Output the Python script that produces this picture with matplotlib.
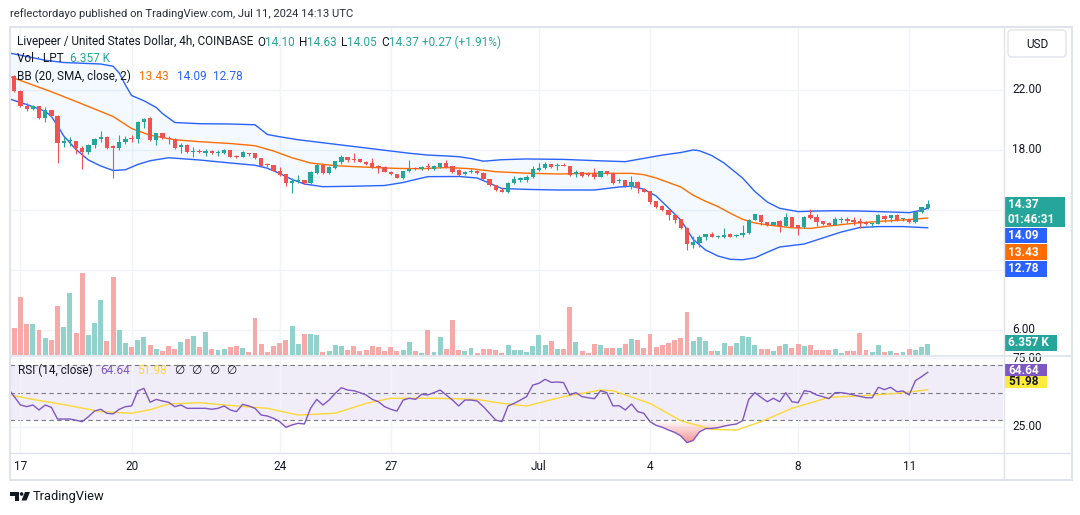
# -*- coding: utf-8 -*-
"""
Livepeer / USD, 4h (COINBASE) - velas, BB(20, 2), volumen y RSI(14)
estilo captura de TradingView
"""
import numpy as np
import matplotlib
matplotlib.use('Agg')
import matplotlib.pyplot as plt
from matplotlib.patches import Rectangle, FancyBboxPatch, Polygon, Circle
from matplotlib.lines import Line2D
from matplotlib.transforms import Affine2D
from matplotlib.path import Path

# DATOS
# indice de vela: 0 = 16 jun 20:00, una vela cada 4h, ultima = 11 jul 12:00
start = -1
opens = [22.3, 22.92, 21.90, 20.92, 20.68, 20.88, 20.12, 20.61, 20.25, 18.45,
         18.55, 18.58, 18.08, 17.85, 18.3, 18.7, 18.85, 18.23, 18.08, 18.52,
         18.72, 18.68, 19.86, 20.12, 18.63, 19.08, 18.79, 18.7, 18.15, 18.3,
         17.85, 17.9, 17.8, 17.9, 17.76, 17.8, 17.97, 17.6, 17.52, 17.77,
         17.75, 17.43, 17.0, 16.95, 16.6, 16.35, 15.78, 15.93, 15.97, 15.8,
         16.45, 16.97, 16.46, 16.75, 17.2, 17.5, 17.35, 17.35, 17.2, 17.1,
         16.9, 16.85, 16.52, 16.37, 16.1, 16.55, 16.77, 16.7, 16.88, 16.73,
         16.82, 17.08, 16.9, 16.63, 16.35, 16.52, 16.6, 16.45, 16.01, 15.63,
         15.32, 15.19, 15.75, 15.95, 15.97, 16.15, 16.65, 16.74, 17.03, 16.9,
         16.95, 16.9, 16.35, 16.5, 16.35, 16.35, 16.19, 16.57, 16.45, 15.9,
         15.99, 15.52, 15.85, 15.4, 15.22, 14.55, 14.22, 14.0, 13.63, 13.35,
         12.78, 11.65, 11.8, 12.14, 12.37, 12.19, 12.2, 12.37, 12.22, 12.3,
         12.45, 13.3, 13.65, 13.19, 12.97, 13.25, 12.92, 13.48, 12.97, 12.81,
         13.63, 13.48, 13.23, 13.12, 13.0, 13.3, 13.37, 13.25, 13.23, 13.2,
         13.03, 13.05, 13.55, 13.41, 13.63, 13.34, 13.34, 13.14, 13.86, 14.10]
highs = [23.1, 23.0, 21.95, 21.12, 21.0, 20.9, 20.81, 20.65, 20.3, 18.85,
         18.85, 18.6, 18.25, 18.39, 18.75, 19.23, 18.9, 18.3, 19.0, 18.9,
         18.95, 19.9, 20.12, 20.15, 19.1, 19.1, 18.9, 18.75, 18.45, 18.4,
         18.19, 18.03, 18.03, 17.95, 17.98, 18.05, 18.0, 17.65, 17.88, 17.8,
         17.78, 17.45, 17.1, 16.95, 16.81, 16.4, 16.08, 16.3, 16.0, 16.55,
         17.08, 17.0, 16.9, 17.26, 17.66, 17.52, 17.75, 17.4, 17.25, 17.41,
         16.95, 16.9, 16.55, 16.4, 16.6, 17.3, 16.85, 16.9, 17.08, 16.95,
         17.12, 17.3, 16.92, 16.7, 16.55, 16.68, 16.62, 16.48, 16.05, 15.65,
         15.42, 15.85, 16.23, 16.15, 16.3, 16.92, 17.12, 17.19, 17.06, 17.08,
         17.08, 16.92, 16.63, 16.52, 16.52, 16.74, 16.6, 16.6, 16.5, 16.08,
         16.0, 16.23, 15.9, 15.42, 15.26, 14.6, 14.3, 14.03, 13.65, 13.4,
         12.81, 12.26, 12.3, 12.4, 12.52, 12.3, 12.75, 12.45, 12.4, 12.97,
         13.35, 13.72, 13.66, 13.2, 13.2, 13.28, 13.74, 13.52, 13.0, 13.56,
         14.01, 13.7, 13.25, 13.15, 13.48, 13.48, 13.52, 13.48, 13.41, 13.25,
         13.1, 13.68, 13.63, 13.65, 13.68, 13.43, 13.4, 13.9, 14.2, 14.63]
lows = [22.2, 21.85, 20.85, 20.6, 20.63, 20.05, 19.86, 20.2, 17.12, 18.2,
        18.25, 17.7, 16.7, 17.7, 18.1, 18.48, 18.05, 16.12, 17.95, 18.4,
        18.5, 18.45, 19.45, 18.6, 18.3, 18.7, 18.4, 18.05, 17.8, 17.8,
        17.48, 17.75, 17.55, 17.7, 17.6, 17.7, 17.5, 17.45, 17.48, 17.6,
        17.4, 16.88, 16.85, 16.55, 16.25, 15.59, 15.08, 15.75, 15.7, 15.72,
        16.4, 16.4, 16.4, 16.72, 17.05, 17.2, 17.2, 17.15, 16.98, 16.8,
        16.41, 16.5, 16.3, 16.1, 16.03, 16.5, 16.65, 16.65, 16.65, 16.63,
        16.78, 16.78, 16.41, 16.25, 16.3, 16.41, 16.38, 15.98, 15.58, 15.25,
        15.15, 15.08, 15.7, 15.85, 15.85, 16.1, 16.59, 16.7, 16.8, 16.63,
        16.88, 16.25, 16.14, 16.2, 16.25, 16.01, 16.15, 16.3, 15.7, 15.74,
        15.5, 15.34, 15.08, 15.15, 14.34, 14.12, 13.92, 13.3, 13.08, 12.7,
        11.3, 11.41, 11.5, 12.0, 12.15, 12.08, 12.08, 12.15, 12.15, 12.2,
        12.4, 13.28, 12.97, 12.9, 12.95, 12.52, 12.9, 12.84, 12.3, 12.78,
        13.38, 12.92, 12.97, 12.95, 12.97, 13.08, 13.08, 12.97, 12.74, 13.0,
        12.81, 13.03, 13.19, 13.19, 13.25, 13.25, 13.1, 13.1, 13.74, 14.05]
closes = [22.95, 21.90, 20.92, 20.68, 20.88, 20.12, 20.61, 20.25, 18.45, 18.55,
          18.58, 18.08, 17.85, 18.3, 18.7, 18.85, 18.12, 18.08, 18.52, 18.7,
          18.68, 19.86, 20.03, 18.63, 19.08, 18.79, 18.7, 18.12, 18.3, 17.85,
          17.9, 17.82, 17.9, 17.75, 17.82, 17.97, 17.52, 17.52, 17.85, 17.68,
          17.43, 16.92, 16.95, 16.6, 16.3, 15.8, 15.93, 15.97, 15.75, 16.52,
          16.97, 16.46, 16.86, 17.23, 17.52, 17.27, 17.3, 17.2, 17.02, 16.86,
          16.82, 16.52, 16.35, 16.12, 16.57, 16.7, 16.7, 16.86, 16.82, 16.9,
          17.08, 16.81, 16.52, 16.3, 16.52, 16.55, 16.41, 16.01, 15.61, 15.3,
          15.19, 15.79, 16.01, 16.12, 16.19, 16.68, 16.74, 17.03, 16.86, 16.95,
          16.92, 16.3, 16.52, 16.26, 16.32, 16.19, 16.57, 16.35, 15.74, 15.99,
          15.6, 15.85, 15.41, 15.19, 14.52, 14.19, 13.97, 13.63, 13.3, 12.74,
          11.7, 11.85, 12.14, 12.37, 12.19, 12.22, 12.3, 12.19, 12.28, 12.46,
          13.3, 13.68, 13.19, 12.97, 13.19, 12.92, 13.48, 12.86, 12.74, 13.52,
          13.41, 13.14, 13.03, 12.99, 13.37, 13.34, 13.23, 13.2, 13.08, 13.03,
          13.05, 13.63, 13.34, 13.63, 13.3, 13.41, 13.14, 13.86, 14.14, 14.37]
# volumen en miles de LPT
volume = [26.6, 15.3, 32.7, 17.6, 17.6, 14.2, 9.7, 8.6, 27.7, 15.9,
          35.0, 12.5, 46.2, 11.4, 18.1, 31.0, 8.0, 43.9, 14.2, 6.9,
          4.7, 8.6, 10.3, 5.8, 3.6, 2.4, 5.2, 3.6, 7.5, 9.2,
          10.8, 4.7, 13.1, 3.6, 3.0, 3.6, 4.7, 5.2, 4.1, 1.9,
          20.9, 6.4, 1.9, 5.2, 6.9, 8.6, 16.5, 6.4, 12.0, 12.0,
          11.4, 1.9, 2.4, 5.8, 5.2, 3.0, 5.2, 2.4, 3.0, 5.2,
          4.7, 2.4, 4.7, 2.4, 3.0, 7.5, 2.4, 1.3, 14.2, 1.9,
          10.3, 3.6, 19.8, 3.0, 2.4, 4.1, 1.3, 3.6, 3.6, 3.0,
          1.3, 5.8, 3.0, 3.0, 1.9, 5.2, 11.4, 5.8, 8.0, 3.6,
          3.6, 27.1, 7.5, 2.4, 1.3, 6.4, 5.8, 4.1, 4.1, 4.1,
          6.4, 9.2, 8.6, 4.1, 12.0, 4.7, 5.8, 6.9, 8.6, 9.7,
          24.3, 8.0, 10.3, 8.0, 2.4, 2.4, 6.9, 5.2, 6.9, 10.8,
          10.3, 5.8, 3.6, 3.6, 2.4, 5.2, 6.4, 4.1, 6.4, 5.2,
          5.8, 3.0, 3.0, 3.0, 3.6, 1.3, 2.4, 2.4, 12.5, 3.0,
          1.9, 5.8, 1.9, 2.4, 1.3, 1.9, 3.6, 3.0, 4.7, 6.357]
rsi_vals = [53.0, 47.0, 40.9, 39.7, 40.9, 37.3, 40.9, 39.2, 30.7, 30.7,
            30.7, 29.8, 28.8, 32.4, 36.5, 37.8, 34.9, 34.4, 37.8, 39.7,
            40.2, 51.1, 53.0, 42.9, 45.0, 43.8, 42.9, 39.7, 40.9, 38.5,
            38.5, 38.5, 38.5, 37.8, 38.5, 40.2, 37.3, 36.1, 41.4, 40.2,
            38.5, 33.6, 32.9, 31.2, 28.8, 24.7, 26.4, 27.6, 27.1, 38.5,
            45.0, 40.9, 44.5, 49.4, 53.5, 51.8, 51.3, 49.9, 48.2, 45.0,
            43.3, 39.7, 37.8, 36.5, 44.5, 45.8, 45.0, 48.7, 48.2, 49.9,
            51.8, 48.2, 44.5, 40.2, 44.5, 44.5, 43.8, 39.7, 34.9, 30.0,
            28.8, 40.2, 42.1, 44.5, 47.0, 55.4, 56.7, 59.6, 57.4, 57.6,
            57.2, 48.2, 49.9, 47.0, 46.2, 45.5, 51.3, 49.9, 40.2, 40.4,
            37.3, 41.6, 36.1, 34.9, 28.8, 26.1, 24.7, 22.7, 21.0, 18.4,
            13.5, 15.2, 21.3, 23.7, 23.9, 24.4, 25.6, 26.4, 27.1, 29.5,
            45.0, 49.9, 46.5, 43.3, 45.8, 43.3, 49.9, 43.3, 42.6, 51.3,
            50.6, 48.2, 47.0, 45.5, 49.9, 49.9, 49.2, 48.2, 47.2, 46.2,
            46.2, 53.8, 52.1, 53.8, 50.6, 51.1, 48.2, 58.6, 61.5, 64.64]

# Bandas de Bollinger (muestras)
bb_up_idx = [-1, 2, 5, 8, 11, 14, 16, 17, 18, 19, 21, 23, 24, 26, 30, 35, 39, 41,
             43, 46, 50, 56, 60, 64, 67, 70, 72, 74, 76, 79, 83, 89, 94, 99, 102,
             105, 108, 110, 111, 113, 115, 118, 120, 122, 124, 127, 130, 133, 137,
             140, 143, 145, 147, 148]
bb_up = [24.45, 24.2, 23.95, 23.8, 23.75, 23.7, 23.55, 23.1, 22.3, 21.6, 21.25,
         20.8, 20.4, 19.8, 19.72, 19.7, 19.65, 19.0, 18.85, 18.65, 18.45, 18.15,
         17.95, 17.75, 17.63, 17.57, 17.52, 17.4, 17.22, 17.32, 17.37, 17.34,
         17.26, 17.19, 17.41, 17.63, 17.8, 17.97, 17.92, 17.6, 17.1, 16.1, 15.2,
         14.5, 14.08, 13.86, 13.9, 13.92, 13.9, 13.86, 13.82, 13.79, 13.95, 14.09]
bb_mid_idx = [-1, 3, 6, 10, 13, 16, 19, 22, 26, 30, 35, 39, 42, 45, 48, 52, 57, 62,
              66, 70, 74, 78, 83, 88, 94, 100, 102, 104, 106, 108, 110, 112, 114,
              116, 118, 120, 122, 126, 129, 132, 136, 140, 144, 148]
bb_mid = [22.9, 22.3, 21.85, 21.2, 20.7, 20.2, 19.4, 18.95, 18.65, 18.52, 18.4,
          18.25, 17.9, 17.45, 17.1, 16.92, 16.82, 16.74, 16.72, 16.8, 16.72, 16.52,
          16.42, 16.37, 16.41, 16.41, 16.32, 16.1, 15.8, 15.5, 14.95, 14.55, 14.2,
          13.75, 13.35, 13.1, 12.97, 12.78, 12.74, 12.9, 13.08, 13.2, 13.3, 13.43]
bb_lo_idx = [-1, 2, 5, 6, 7, 8, 10, 12, 14, 16, 18, 20, 22, 25, 30, 35, 39, 41, 43,
             45, 47, 50, 55, 60, 63, 65, 67, 72, 75, 77, 79, 83, 88, 94, 98, 100,
             102, 104, 106, 108, 110, 112, 114, 116, 118, 120, 122, 124, 126, 128,
             131, 134, 137, 140, 144, 146, 148]
bb_lo = [21.4, 21.0, 20.55, 20.2, 19.6, 18.9, 18.0, 17.3, 16.9, 16.6, 16.65, 17.0,
         17.25, 17.45, 17.3, 17.1, 16.95, 16.75, 16.4, 16.0, 15.7, 15.52, 15.55,
         15.6, 15.8, 16.0, 16.19, 16.2, 16.1, 15.75, 15.4, 15.34, 15.3, 15.3, 15.5,
         15.55, 15.35, 14.9, 14.1, 13.3, 12.0, 11.3, 10.9, 10.68, 10.65, 10.78,
         11.15, 11.5, 11.6, 11.7, 12.1, 12.5, 12.8, 12.86, 12.86, 12.82, 12.78]
# media del RSI (SMA 14)
ma_idx = [-1, 3, 8, 14, 19, 22, 25, 30, 34, 41, 46, 52, 57, 61, 68, 75, 79, 83, 89,
          95, 97, 103, 108, 113, 117, 121, 126, 132, 137, 143, 148]
rsi_ma = [48.5, 45.0, 41.2, 36.1, 34.9, 37.5, 41.6, 42.6, 40.9, 38.5, 33.6, 34.9,
          42.1, 45.8, 45.8, 45.0, 42.1, 40.2, 47.0, 51.8, 51.3, 42.1, 29.5, 23.2,
          22.7, 28.8, 38.5, 46.5, 47.5, 49.4, 51.98]

tick_idx = [1, 19, 43, 61, 85, 103, 127, 145]
tick_lab = ['17', '20', '24', '27', 'Jul', '4', '8', '11']
price_ticks = [22, 18, 14, 10, 6]
price_labels = {22: '22.00', 18: '18.00', 6: '6.00'}

# COLORES
TEAL = '#26A69A'
RED = '#EF5350'
VTEAL = '#92D2CC'
VRED = '#F7A9A7'
BLUE = '#2962FF'
ORANGE = '#FF6D00'
PURPLE = '#7E57C2'
YELLOW = '#FDD835'
GRID = '#F0F3FA'
SEP = '#E0E3EB'
TXT = '#131722'

plt.rcParams['font.family'] = ['Roboto', 'DejaVu Sans']

W, H = 1080, 515
fig = plt.figure(figsize=(W / 100, H / 100), dpi=100)
fig.patch.set_facecolor('white')
# pixeles con origen arriba a la izquierda
PX = Affine2D().scale(1, -1).translate(0, H)


def rect(l, t, r, b):
    return [l / W, 1 - b / H, (r - l) / W, (b - t) / H]


idx = np.arange(start, start + len(closes))
o = np.array(opens)
hi = np.array(highs)
lo = np.array(lows)
c = np.array(closes)
up = c >= o

vol = fig.add_axes(rect(10, 28, 1003, 355))
main = vol.twinx()
rsi = fig.add_axes(rect(10, 356, 1003, 452), sharex=vol)

for ax in (vol, main, rsi):
    ax.tick_params(left=False, right=False, bottom=False, top=False,
                   labelleft=False, labelright=False, labelbottom=False)
    for s in ax.spines.values():
        s.set_visible(False)

vol.set_xticks(tick_idx)
vol.grid(axis='x', color=GRID, lw=1)
rsi.grid(axis='x', color=GRID, lw=1)
for p in price_ticks:
    vol.add_line(Line2D([-5, 170], [p, p], transform=main.transData,
                        color=GRID, lw=1, zorder=0.5))

# volumen
vol.bar(idx, volume, width=0.8, color=np.where(up, VTEAL, VRED), lw=0, zorder=2)

# bandas de bollinger
main.fill(np.r_[bb_up_idx, bb_lo_idx[::-1]], np.r_[bb_up, bb_lo[::-1]],
          color='#2196F3', alpha=0.05, lw=0, zorder=1)
main.plot(bb_up_idx, bb_up, color=BLUE, lw=1, zorder=2)
main.plot(bb_lo_idx, bb_lo, color=BLUE, lw=1, zorder=2)
main.plot(bb_mid_idx, bb_mid, color=ORANGE, lw=1, zorder=2)

# velas
cols = np.where(up, TEAL, RED)
main.vlines(idx, lo, hi, colors=cols, lw=0.8, zorder=3)
main.bar(idx, np.maximum(np.abs(c - o), 0.07), bottom=np.minimum(o, c),
         width=0.7, color=cols, lw=0, zorder=4)

# RSI
r = np.array(rsi_vals)
rsi.axhspan(30, 70, color=PURPLE, alpha=0.1, lw=0, zorder=0)
for lvl in (25, 75):
    rsi.axhline(lvl, color=GRID, lw=1, zorder=0.5)
for lvl in (70, 50, 30):
    rsi.axhline(lvl, color='#787B86', lw=0.8, dashes=(4, 3), zorder=1)
zona = rsi.fill_between(idx, r, 30, where=r < 30, interpolate=True,
                        color='none', lw=0)
grad = np.zeros((100, 1, 4))
grad[:, 0, 0], grad[:, 0, 1], grad[:, 0, 2] = 0.94, 0.33, 0.31
grad[:, 0, 3] = np.linspace(0.7, 0.0, 100)
img = rsi.imshow(grad, extent=[-2, 160, 12, 30], origin='lower', aspect='auto',
                 zorder=1.5)
img.set_clip_path(Path.make_compound_path(*zona.get_paths()), rsi.transData)
rsi.plot(idx, r, color=PURPLE, lw=1, zorder=3)
rsi.plot(ma_idx, rsi_ma, color=YELLOW, lw=1, zorder=2)

vol.set_xlim(-0.7, 160.2)
vol.set_ylim(0, 183.5)
main.set_ylim(4.3, 26.1)
rsi.set_ylim(6.73, 76.55)

# marcos y separadores
fig.add_artist(Rectangle((9.5, 27), 1062.5, 452.5, transform=PX, fill=False,
                         ec=SEP, lw=1.5))
fig.add_artist(Line2D([10, 1072], [355.5, 355.5], transform=PX, color=SEP, lw=1.2))
fig.add_artist(Line2D([10, 1072], [452.5, 452.5], transform=PX, color=SEP, lw=1))
fig.add_artist(Line2D([1003.5, 1003.5], [27, 480], transform=PX, color=SEP, lw=1))

# ejes de texto
for i, lab in zip(tick_idx, tick_lab):
    rsi.text(i, -0.15, lab, transform=rsi.get_xaxis_transform(), ha='center',
             va='center', fontsize=8.5, color=TXT, clip_on=False)
for p, lab in price_labels.items():
    main.text(1.0095, p, lab, transform=main.get_yaxis_transform(), ha='left',
              va='center', fontsize=8.5, color=TXT, clip_on=False)
for p in (75, 25):
    rsi.text(1.0095, p, '%.2f' % p, transform=rsi.get_yaxis_transform(),
             ha='left', va='center', fontsize=8.5, color=TXT, clip_on=False)

fig.add_artist(FancyBboxPatch((1008, 30), 58, 27, boxstyle='round,pad=0,rounding_size=4',
                              transform=PX, fc='white', ec=SEP, lw=1))
fig.text(1037, 44, 'USD', transform=PX, ha='center', va='center', fontsize=8.5, color=TXT)


def caja(t, b, right, color, lineas, tcol='white'):
    fig.add_artist(Rectangle((1004, t), right - 1004, b - t, transform=PX,
                             fc=color, ec='none'))
    n = len(lineas)
    for k, s in enumerate(lineas):
        y = t + (b - t) * (k + 0.5) / n
        fig.text(1008, y, s, transform=PX, ha='left', va='center',
                 fontsize=8.5, color=tcol, fontweight='bold')


caja(196.5, 227, 1065, TEAL, ['14.37', '01:46:31'])
caja(227.5, 243, 1047, BLUE, ['14.09'])
caja(244, 260, 1047, ORANGE, ['13.43'])
caja(261, 277, 1047, BLUE, ['12.78'])
caja(335, 351, 1057, TEAL, ['6.357 K'])
caja(364, 376, 1047, PURPLE, ['64.64'])
caja(376, 387.5, 1047, '#FFEB3B', ['51.98'], tcol=TXT)

# leyendas de colores


def seq_text(x, y, parts, size=8.5):
    rend = fig.canvas.get_renderer()
    for s, col, gap in parts:
        t = fig.text(x, y, s, transform=PX, color=col, fontsize=size,
                     ha='left', va='center')
        x += t.get_window_extent(renderer=rend).width + gap


seq_text(17, 42, [('Livepeer / United States Dollar, 4h, COINBASE', TXT, 4),
                  ('O', TXT, 0), ('14.10', TEAL, 4), ('H', TXT, 0), ('14.63', TEAL, 4),
                  ('L', TXT, 0), ('14.05', TEAL, 4), ('C', TXT, 0), ('14.37', TEAL, 4),
                  ('+0.27 (+1.91%)', TEAL, 0)])
seq_text(17, 59, [('Vol · LPT', TXT, 6), ('6.357 K', TEAL, 0)])
seq_text(17, 76, [('BB (20, SMA, close, 2)', TXT, 8), ('13.43', ORANGE, 8),
                  ('14.09', BLUE, 7), ('12.78', BLUE, 0)])
seq_text(18, 370, [('RSI (14, close)', TXT, 8), ('64.64', PURPLE, 7),
                   ('51.98', YELLOW, 7), ('∅', TXT, 7), ('∅', TXT, 7),
                   ('∅', TXT, 7), ('∅', TXT, 0)])

fig.text(10, 14, 'reflectordayo published on TradingView.com, Jul 11, 2024 14:13 UTC',
         transform=PX, ha='left', va='center', fontsize=8.1, color='#2A2E39')

# logo TradingView
fig.add_artist(Polygon([(10, 492), (19, 492), (19, 500.5), (15, 500.5), (15, 495.5),
                        (10, 495.5)], closed=True, transform=PX, fc=TXT, ec='none'))
fig.add_artist(Circle((21.6, 494), 1.8, transform=PX, fc=TXT, ec='none'))
fig.add_artist(Polygon([(25, 492), (30, 492), (26.5, 500.5), (21.5, 500.5)],
                       closed=True, transform=PX, fc=TXT, ec='none'))
fig.text(33, 496.5, 'TradingView', transform=PX, ha='left', va='center',
         fontsize=9.3, color=TXT)

fig.savefig('out.png', dpi=100)
